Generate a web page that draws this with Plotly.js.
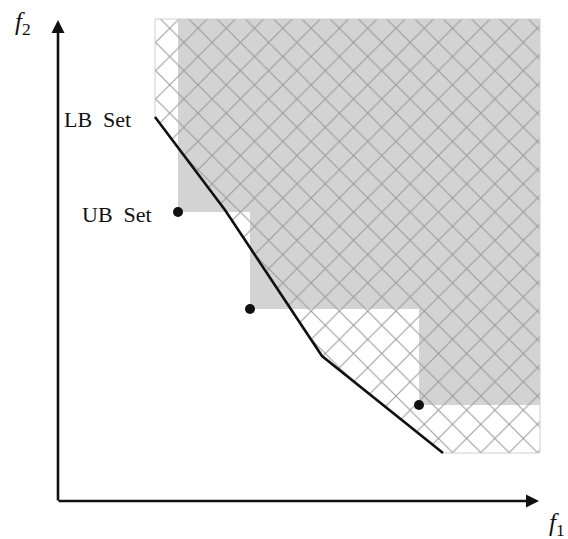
<!DOCTYPE html>
<html>
<head>
<meta charset="utf-8">
<script src="https://cdn.plot.ly/plotly-3.0.1.min.js"></script>
<style>html,body{margin:0;padding:0;background:#fff;}#chart{width:568px;height:539px;}</style>
</head>
<body>
<div id="chart"></div>
<script>
// Lower bound set (piecewise linear, f1 / f2)
const lbF1 = [1.94, 3.34, 5.28, 7.70];
const lbF2 = [7.68, 5.82, 2.90, 0.96];
// Upper bound set (points)
const ubF1 = [2.40, 3.84, 7.22];
const ubF2 = [5.78, 3.84, 1.92];
// Reference corner of the search region
const refF1 = 9.64;
const refF2 = 9.64;
// Labels
const lbLabel = 'LB&nbsp; Set';
const ubLabel = 'UB&nbsp; Set';

// Gray region dominated by the UB set (staircase)
const gx = [ubF1[0], refF1], gy = [refF2, refF2];
for (let i = ubF1.length - 1; i >= 0; i--) {
  gx.push(i === ubF1.length - 1 ? refF1 : ubF1[i + 1]); gy.push(ubF2[i]);
  gx.push(ubF1[i]); gy.push(ubF2[i]);
}
gx.push(ubF1[0]); gy.push(refF2);

// Hatched region above the LB set
const n = lbF1.length;
const hx = [lbF1[0], refF1, refF1], hy = [refF2, refF2, lbF2[n - 1]];
for (let i = n - 1; i >= 0; i--) { hx.push(lbF1[i]); hy.push(lbF2[i]); }
hx.push(lbF1[0]); hy.push(refF2);

const traces = [
  {x: gx, y: gy, mode: 'lines', fill: 'toself', fillcolor: '#d3d3d3',
   line: {width: 0, color: '#d3d3d3'}, hoverinfo: 'skip'},
  {x: hx, y: hy, mode: 'lines', fill: 'toself', fillcolor: 'rgba(0,0,0,0)',
   fillpattern: {shape: 'x', size: 20, solidity: 0.1, fgcolor: '#999999', bgcolor: 'rgba(0,0,0,0)'},
   line: {width: 1, color: '#d0d0d0'}, hoverinfo: 'skip'},
  {x: lbF1, y: lbF2, mode: 'lines', line: {color: '#111', width: 2.6}},
  {x: ubF1, y: ubF2, mode: 'markers', marker: {color: '#111', size: 10}}
];

const serif = 'Liberation Serif, Times New Roman, serif';
const layout = {
  width: 568, height: 539,
  margin: {l: 0, r: 0, t: 0, b: 0},
  paper_bgcolor: '#fff', plot_bgcolor: '#fff',
  showlegend: false,
  xaxis: {range: [-1.16, 10.2], visible: false, fixedrange: true},
  yaxis: {range: [-0.76, 10.02], visible: false, fixedrange: true},
  annotations: [
    {x: 0, y: 9.62, ax: 0, ay: -0.02, xref: 'x', yref: 'y', axref: 'x', ayref: 'y', text: '',
     showarrow: true, arrowhead: 2, arrowsize: 1, arrowwidth: 2.6, arrowcolor: '#111', standoff: 0, startstandoff: 0},
    {x: 9.62, y: 0, ax: -0.02, ay: 0, xref: 'x', yref: 'y', axref: 'x', ayref: 'y', text: '',
     showarrow: true, arrowhead: 2, arrowsize: 1, arrowwidth: 2.6, arrowcolor: '#111', standoff: 0, startstandoff: 0},
    {x: 1.5, y: 7.64, xref: 'x', yref: 'y', text: lbLabel, showarrow: false,
     xanchor: 'right', yanchor: 'middle', font: {family: serif, size: 22, color: '#111'}},
    {x: 1.92, y: 5.74, xref: 'x', yref: 'y', text: ubLabel, showarrow: false,
     xanchor: 'right', yanchor: 'middle', font: {family: serif, size: 22, color: '#111'}},
    {x: -0.70, y: 9.56, xref: 'x', yref: 'y', text: '<i>f</i><sub>2</sub>', showarrow: false,
     xanchor: 'center', yanchor: 'middle', font: {family: serif, size: 25, color: '#111'}},
    {x: 9.98, y: -0.46, xref: 'x', yref: 'y', text: '<i>f</i><sub>1</sub>', showarrow: false,
     xanchor: 'center', yanchor: 'middle', font: {family: serif, size: 25, color: '#111'}}
  ]
};

Plotly.newPlot('chart', traces, layout, {displayModeBar: false, staticPlot: true});
</script>
</body>
</html>
